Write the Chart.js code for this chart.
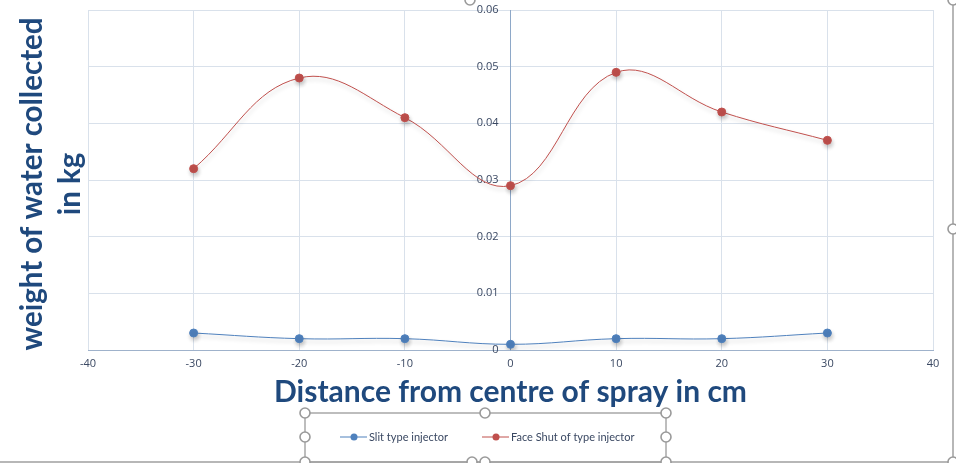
<!DOCTYPE html>
<html lang="en">
<head>
  <meta charset="UTF-8">
  <title>Weight of water collected vs distance</title>
  <script src="https://cdn.jsdelivr.net/npm/chart.js"></script>
  <style>
    html, body { margin: 0; padding: 0; background: #fff; overflow: hidden; }
    #wrap { position: relative; width: 956px; height: 463px; }
  </style>
</head>
<body>
  <div id="wrap"><canvas id="sprayChart"></canvas></div>

  <script>
    // values
    const distances = [-30, -20, -10, 0, 10, 20, 30];
    const slitType = [0.003, 0.002, 0.002, 0.001, 0.002, 0.002, 0.003];
    const faceShut = [0.032, 0.048, 0.041, 0.029, 0.049, 0.042, 0.037];
    const seriesNames = ['Slit type injector', 'Face Shut of type injector'];
    const xTitle = 'Distance from centre of spray in cm';
    const yTitle = ['weight of water collected', 'in kg'];

    const BLUE = '#4F81BD', RED = '#C0504D';
    const TITLE_COLOR = '#1F497D', TICK_COLOR = '#3A4862';
    const GRID = '#D9E1EB';

    const pts = vals => vals.map((v, i) => ({ x: distances[i], y: v }));

    // soft shadow under the lines, like the Excel effect
    const shadowPlugin = {
      id: 'shadow',
      beforeDatasetDraw(chart) {
        const c = chart.ctx;
        c.save();
        c.shadowColor = 'rgba(0,0,0,0.22)';
        c.shadowBlur = 4;
        c.shadowOffsetX = 1;
        c.shadowOffsetY = 3;
      },
      afterDatasetDraw(chart) { chart.ctx.restore(); }
    };

    function handle(c, x, y) {
      c.beginPath();
      c.arc(x, y, 5, 0, Math.PI * 2);
      c.fillStyle = '#fff'; c.fill();
      c.lineWidth = 1.6; c.strokeStyle = '#9a9a9a'; c.stroke();
    }

    const extrasPlugin = {
      id: 'extras',
      afterDraw(chart) {
        const c = chart.ctx;
        const area = chart.chartArea;
        c.save();

        // y axis title, rotated, two lines
        c.fillStyle = TITLE_COLOR;
        c.font = 'bold 29.5px Lato';
        c.textAlign = 'center';
        c.textBaseline = 'middle';
        const cy = (area.top + area.bottom) / 2 + 4;
        [[32, yTitle[0]], [70, yTitle[1]]].forEach(([x, t]) => {
          c.save();
          c.translate(x, cy);
          c.rotate(-Math.PI / 2);
          c.fillText(t, 0, 0);
          c.restore();
        });

        // legend box
        const lx1 = 305, lx2 = 666, ly1 = 413, ly2 = 462, ly = 437;
        c.strokeStyle = '#a8a8a8'; c.lineWidth = 1.5;
        c.strokeRect(lx1, ly1, lx2 - lx1, ly2 - ly1);

        c.font = '11px Lato';
        c.textAlign = 'left';
        c.textBaseline = 'middle';
        const items = [
          { x: 340, color: BLUE, text: seriesNames[0] },
          { x: 482, color: RED, text: seriesNames[1] }
        ];
        items.forEach(it => {
          c.strokeStyle = it.color; c.lineWidth = 1;
          c.beginPath(); c.moveTo(it.x, ly); c.lineTo(it.x + 27, ly); c.stroke();
          c.fillStyle = it.color;
          c.beginPath(); c.arc(it.x + 14, ly, 3.5, 0, Math.PI * 2); c.fill();
          c.fillStyle = TICK_COLOR;
          c.fillText(it.text, it.x + 29, ly);
        });

        // selection frame of the chart object
        c.strokeStyle = '#a0a0a0'; c.lineWidth = 1.5;
        c.beginPath();
        c.moveTo(953, 0); c.lineTo(953, 462); c.lineTo(0, 462);
        c.stroke();

        [[470, 0], [953, 0], [953, 229], [953, 462], [472, 462],
         [lx1, ly1], [485, ly1], [lx2, ly1], [lx1, ly], [lx2, ly],
         [lx1, ly2], [485, ly2], [lx2, ly2]].forEach(([x, y]) => handle(c, x, y));

        c.restore();
      }
    };

    const chart = new Chart(document.getElementById('sprayChart'), {
      type: 'line',
      data: {
        datasets: [
          {
            label: seriesNames[0], data: pts(slitType),
            borderColor: BLUE, backgroundColor: BLUE, borderWidth: 1,
            pointRadius: 4, pointHoverRadius: 4, tension: 0.4
          },
          {
            label: seriesNames[1], data: pts(faceShut),
            borderColor: RED, backgroundColor: RED, borderWidth: 1,
            pointRadius: 4, pointHoverRadius: 4, tension: 0.4
          }
        ]
      },
      options: {
        responsive: true, maintainAspectRatio: false, animation: false,
        layout: { padding: { left: 88, right: 23, top: 10, bottom: 53 } },
        plugins: { legend: { display: false }, tooltip: { enabled: false } },
        scales: {
          x: {
            type: 'linear', min: -40, max: 40,
            ticks: { stepSize: 10, color: TICK_COLOR, font: { family: 'Open Sans', size: 11 }, padding: 7 },
            grid: { color: GRID, drawTicks: false },
            border: { color: '#9FB2CB' },
            title: {
              display: true, text: xTitle, color: TITLE_COLOR,
              font: { family: 'Lato', size: 30, weight: 'bold' },
              padding: { top: 0, bottom: 0 }
            },
            afterFit: s => { s.height = 60; }
          },
          y: {
            position: 'center', min: 0, max: 0.06,
            ticks: {
              stepSize: 0.01, color: TICK_COLOR, padding: 12,
              font: { family: 'Open Sans', size: 11 },
              callback: v => String(+v.toFixed(2))
            },
            grid: { color: GRID, drawTicks: false },
            border: { color: '#8EA8C8' },
            afterFit: s => { s.paddingTop = 0; s.paddingBottom = 0; }
          }
        }
      },
      plugins: [shadowPlugin, extrasPlugin]
    });
  </script>
</body>
</html>
